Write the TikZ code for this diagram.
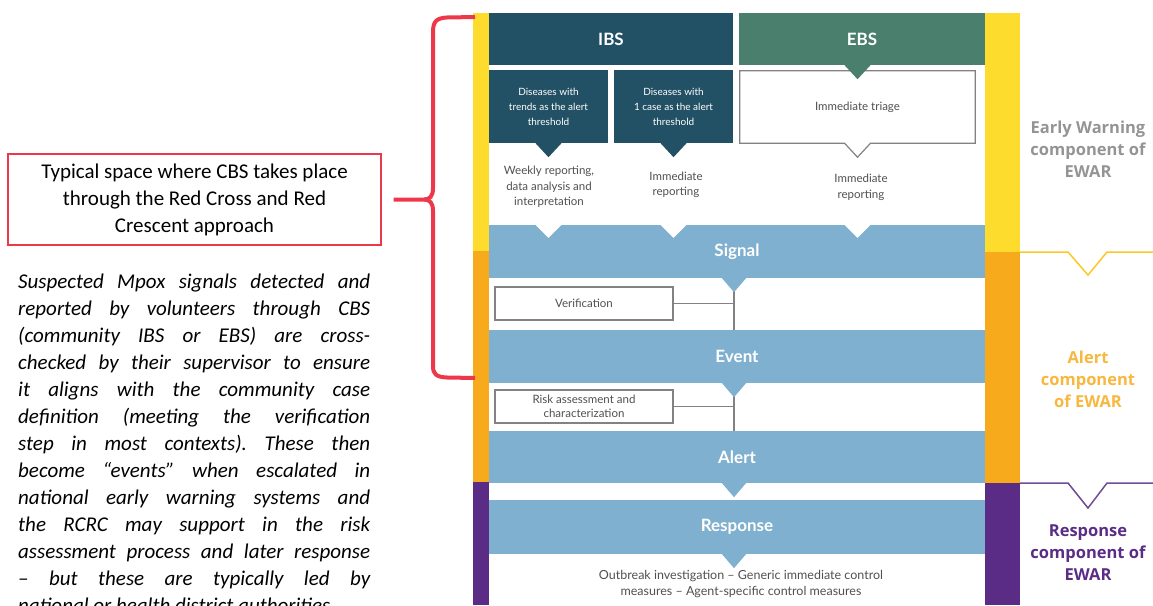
\documentclass[tikz,border=0pt]{standalone}
\usepackage{fontspec}
\setmainfont{Carlito}
\newfontfamily\diagfont{Lato}
\newfontfamily\sidefont{Open Sans}
\usetikzlibrary{calc}
\definecolor{ibscolor}{RGB}{34,80,100}
\definecolor{ebscolor}{RGB}{74,127,110}
\definecolor{bandcolor}{RGB}{128,176,207}
\definecolor{earlycolor}{RGB}{253,220,46}
\definecolor{alertcolor}{RGB}{247,170,28}
\definecolor{respcolor}{RGB}{90,44,134}
\definecolor{bracecolor}{RGB}{236,56,74}
\definecolor{linecolor}{RGB}{130,130,130}
\definecolor{txtcolor}{RGB}{80,80,80}

\begin{document}
\begin{tikzpicture}[x=1pt, y=-1pt,
    hdr/.style={rectangle, inner sep=0pt, minimum height=52pt, text=white, font=\diagfont\bfseries\fontsize{17}{20}\selectfont},
    dark/.style={rectangle, fill=ibscolor, inner sep=0pt, minimum width=119pt, minimum height=73pt, align=center, text=white, font=\diagfont\fontsize{10}{15}\selectfont},
    plain/.style={align=center, text=txtcolor, font=\diagfont\fontsize{11.5}{15.5}\selectfont},
    band/.style={rectangle, fill=bandcolor, inner sep=0pt, minimum width=496pt, text=white, font=\diagfont\bfseries\fontsize{17}{20}\selectfont},
    outbox/.style={rectangle, draw=linecolor, fill=white, line width=1.2pt, inner sep=0pt, minimum width=178pt, minimum height=33pt, align=center, text=txtcolor, font=\diagfont\fontsize{11.5}{14.5}\selectfont},
    link/.style={draw=linecolor, line width=1.2pt},
    sidelabel/.style={align=center, font=\sidefont\bfseries\fontsize{16.5}{22}\selectfont}
]
\useasboundingbox (0,0) rectangle (1153,605);

% side bars
\fill[earlycolor] (473,13) rectangle (489,251);
\fill[alertcolor] (473,251) rectangle (489,482);
\fill[respcolor] (473,482) rectangle (489,605);
\fill[earlycolor] (985,13) rectangle (1020,252);
\fill[alertcolor] (985,252) rectangle (1020,483);
\fill[respcolor] (985,483) rectangle (1020,605);

% headers
\node[hdr, fill=ibscolor, minimum width=244pt] (ibs) at (611,39) {IBS};
\node[hdr, fill=ebscolor, minimum width=246pt] (ebs) at (862,39) {EBS};

\node[dark] (trend) at (548.5,106.5) {Diseases with\\trends as the alert\\threshold};
\node[dark] (onecase) at (673.5,106.5) {Diseases with\\1 case as the alert\\threshold};
\node[plain, minimum width=235pt, minimum height=72pt] (triage) at (857.5,107) {};
\draw[link, fill=white] (triage.north west) -- (triage.north east) -- (triage.south east)
    -- ($(triage.south)+(13,0)$) -- ($(triage.south)+(0,14)$) -- ($(triage.south)+(-13,0)$)
    -- (triage.south west) -- cycle;
\node[plain] at (triage) {Immediate triage};
\fill[ebscolor] ($(ebs.south -| triage.south)+(-13,0)$) -- ($(ebs.south -| triage.south)+(0,14)$) -- ($(ebs.south -| triage.south)+(13,0)$) -- cycle;
\foreach \b in {trend, onecase}
    \fill[ibscolor] ($(\b.south)+(-13,0)$) -- ($(\b.south)+(0,14)$) -- ($(\b.south)+(13,0)$) -- cycle;

\node[plain] (weekly) at (549,187) {Weekly reporting,\\data analysis and\\interpretation};
\node[plain] (immrep) at (676,185) {Immediate\\reporting};
\node[plain] (ebsrep) at (861,187.5) {Immediate\\reporting};

% bands
\coordinate (spine) at (734,0);
\node[band, minimum height=53pt] (signal) at (737,251.5) {Signal};
\foreach \b in {trend, onecase, triage}
    \fill[white] ($(\b.south |- signal.north)+(-13,0)$) -- ($(\b.south |- signal.north)+(0,13)$) -- ($(\b.south |- signal.north)+(13,0)$) -- cycle;
\node[band, minimum height=53pt] (event) at (737,356.5) {Event};
\node[band, minimum height=52pt] (alert) at (737,457) {Alert};
\node[band, minimum height=54pt] (response) at (737,527) {Response};

\node[outbox] (verif) at (584,303.5) {Verification};
\node[outbox] (risk) at (584,406.5) {Risk assessment and\\characterization};

\draw[link] (signal.south -| spine) -- (event.north -| spine);
\draw[link] (verif.east) -- (verif.east -| spine);
\draw[link] (event.south -| spine) -- (alert.north -| spine);
\draw[link] (risk.east) -- (risk.east -| spine);

\foreach \b in {signal, event, alert, response}
    \fill[bandcolor] ($(\b.south -| spine)+(-12,0)$) -- ($(\b.south -| spine)+(0,14)$) -- ($(\b.south -| spine)+(12,0)$) -- cycle;

\node[plain, font=\diagfont\fontsize{12.5}{16}\selectfont] (measures) at (741,584) {Outbreak investigation – Generic immediate control\\measures – Agent-specific control measures};

% right labels
\draw[earlycolor!60!alertcolor, line width=1.5pt] (1020,252) -- (1068,252) -- (1088,275) -- (1107,252) -- (1153,252);
\draw[respcolor!85!white, line width=1.5pt] (1020,483) -- (1068,483) -- (1088,508) -- (1107,483) -- (1153,483);
\node[sidelabel, text=black!42] (ewlabel) at (1088,149) {Early Warning\\component of\\EWAR};
\node[sidelabel, text=alertcolor!85!white] (allabel) at (1088,379) {Alert\\component\\of EWAR};
\node[sidelabel, text=respcolor] (reslabel) at (1088,553) {Response\\component of\\EWAR};

% left notes
\node[rectangle, draw=bracecolor, line width=1.3pt, minimum width=373pt, minimum height=91pt, align=center, font=\fontsize{21}{27}\selectfont] (cbsbox) at (194.5,199.5) {Typical space where CBS takes place\\through the Red Cross and Red\\Crescent approach};
\node[anchor=north west, inner sep=0pt, text width=352pt, align=justify, font=\itshape\fontsize{21}{27}\selectfont] (cbsnote) at (18,274) {\frenchspacing\hyphenpenalty=10000
Suspected Mpox signals detected and\linebreak
reported by volunteers through CBS\linebreak
(community IBS or EBS) are cross-\linebreak
checked by their supervisor to ensure\linebreak
it aligns with the community case\linebreak
definition (meeting the verification\linebreak
step in most contexts). These then\linebreak
become “events” when escalated in\linebreak
national early warning systems and\linebreak
the RCRC may support in the risk\linebreak
assessment process and later response\linebreak
– but these are typically led by\linebreak
national or health district authorities.};

% brace
\coordinate (bracetip) at ($(cbsbox.east)+(12,0)$);
\coordinate (bracetop) at (475,17);
\coordinate (bracebot) at (475,378);
\draw[bracecolor, line width=4pt] (bracetop) -- (447,17.5) .. controls (436,18) and (433,22) .. (433,32) -- (433,188)
    .. controls (433,196) and (430,199.5) .. (424,199.5) -- (bracetip);
\draw[bracecolor, line width=4pt] (424,199.5) .. controls (430,199.5) and (433,203) .. (433,211) -- (433,366)
    .. controls (433,374) and (436,377) .. (447,377.5) -- (bracebot);
\end{tikzpicture}
\end{document}
